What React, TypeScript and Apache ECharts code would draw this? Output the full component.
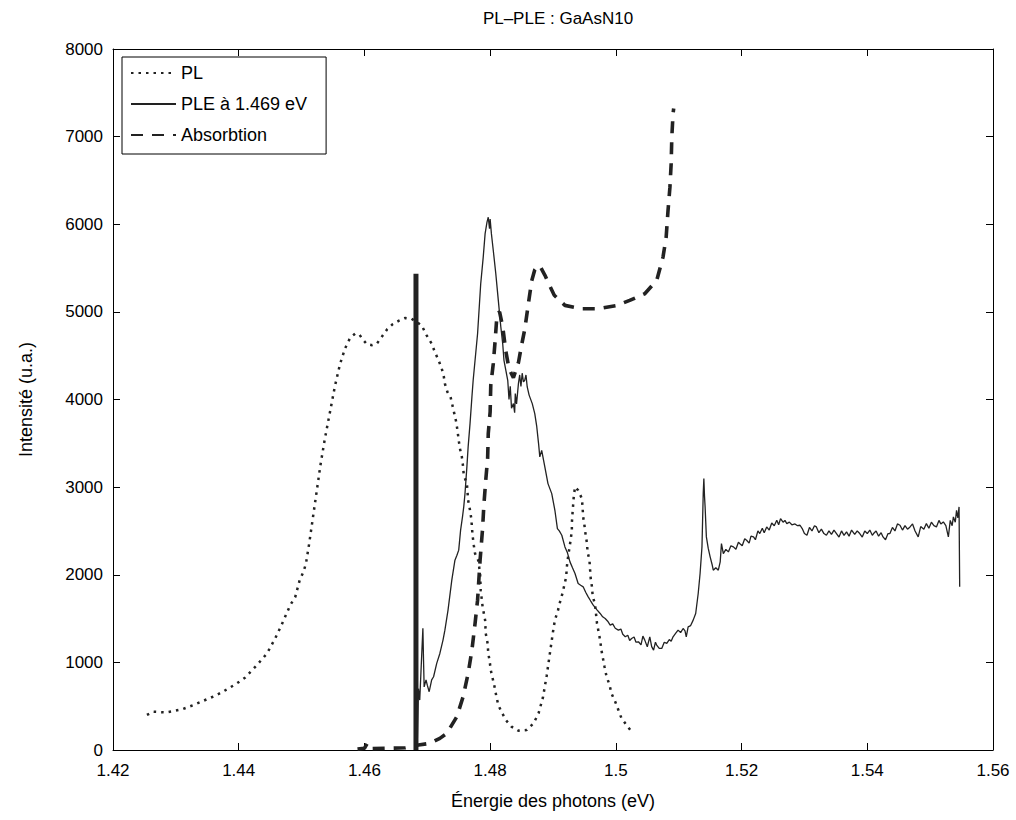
import React, { useEffect, useRef } from 'react';
import * as echarts from 'echarts';

const xTickLabels = ['1.42', '1.44', '1.46', '1.48', '1.5', '1.52', '1.54', '1.56'];
const yTickLabels = ['0', '1000', '2000', '3000', '4000', '5000', '6000', '7000', '8000'];
const seriesNames = ['PL', 'PLE à 1.469 eV', 'Absorbtion'];
const titleText = 'PL–PLE : GaAsN10';
const xAxisName = 'Énergie des photons (eV)';
const yAxisName = 'Intensité (u.a.)';

const detectionEnergy = 1.4682;
const detectionTop = 5435;

const plData: [number, number][] = [
  [1.4254, 400], [1.4264, 437], [1.4285, 429], [1.4297, 445], [1.4311, 467], [1.4328, 513],
  [1.4344, 562], [1.4365, 627], [1.4381, 691], [1.4397, 760], [1.4410, 825], [1.4429, 969],
  [1.4445, 1102], [1.4458, 1273], [1.4468, 1425], [1.4482, 1653], [1.4490, 1748], [1.4497, 1938],
  [1.4503, 2033], [1.4507, 2128], [1.4512, 2350], [1.4518, 2650], [1.4524, 2950], [1.4530, 3250],
  [1.4537, 3550], [1.4545, 3850], [1.4553, 4150], [1.4561, 4400], [1.4569, 4580], [1.4577, 4700],
  [1.4585, 4750], [1.4592, 4740], [1.4598, 4680], [1.4604, 4630], [1.4612, 4620], [1.4620, 4640],
  [1.4628, 4720], [1.4636, 4800], [1.4645, 4860], [1.4655, 4900], [1.4665, 4930], [1.4675, 4922],
  [1.4691, 4846], [1.4699, 4732], [1.4707, 4637], [1.4712, 4542], [1.4718, 4447], [1.4723, 4352],
  [1.4726, 4276], [1.4728, 4181], [1.4732, 4086], [1.4737, 4029], [1.4740, 3934], [1.4743, 3839],
  [1.4746, 3744], [1.4748, 3648], [1.4750, 3534], [1.4752, 3439], [1.4755, 3345], [1.4757, 3231],
  [1.4758, 3136], [1.4763, 3041], [1.4764, 2945], [1.4765, 2850], [1.4768, 2736], [1.4770, 2641],
  [1.4771, 2546], [1.4772, 2451], [1.4774, 2337], [1.4776, 2242], [1.4781, 2166], [1.4784, 2014],
  [1.4785, 1824], [1.4788, 1634], [1.4792, 1482], [1.4793, 1330], [1.4796, 1216], [1.4797, 1102],
  [1.4799, 1026], [1.4801, 912], [1.4804, 817], [1.4807, 722], [1.4810, 608], [1.4813, 513],
  [1.4818, 437], [1.4825, 342], [1.4834, 266], [1.4845, 220], [1.4858, 228], [1.4869, 304],
  [1.4877, 418], [1.4884, 600], [1.4890, 850], [1.4896, 1150], [1.4900, 1350], [1.4903, 1482],
  [1.4908, 1596], [1.4911, 1684], [1.4915, 1786], [1.4918, 1881], [1.4921, 1976], [1.4922, 2090],
  [1.4924, 2204], [1.4926, 2299], [1.4928, 2394], [1.4930, 2508], [1.4930, 2591], [1.4931, 2698],
  [1.4932, 2793], [1.4933, 2888], [1.4935, 3002], [1.4940, 2964], [1.4946, 2869], [1.4947, 2774],
  [1.4948, 2660], [1.4950, 2565], [1.4952, 2451], [1.4954, 2363], [1.4955, 2261], [1.4958, 2166],
  [1.4959, 2060], [1.4960, 1957], [1.4962, 1862], [1.4963, 1767], [1.4967, 1653], [1.4970, 1444],
  [1.4975, 1254], [1.4977, 1140], [1.4982, 950], [1.4985, 844], [1.4990, 741], [1.4993, 646],
  [1.4999, 551], [1.5004, 456], [1.5009, 361], [1.5017, 285], [1.5025, 209],
];

const pleData: [number, number][] = [
  [1.4684, 50], [1.4686, 700], [1.4688, 570], [1.4690, 900], [1.4693, 1390], [1.4694, 1030],
  [1.4695, 720], [1.4698, 800], [1.4700, 740], [1.4703, 665], [1.4707, 800], [1.4710, 836],
  [1.4715, 988], [1.4720, 1102], [1.4725, 1254], [1.4728, 1368], [1.4733, 1596], [1.4739, 1938],
  [1.4744, 2166], [1.4747, 2220], [1.4750, 2281], [1.4753, 2509], [1.4756, 2661], [1.4758, 2775],
  [1.4760, 2927], [1.4763, 3231], [1.4765, 3459], [1.4768, 3725], [1.4771, 4029], [1.4773, 4219],
  [1.4780, 4751], [1.4785, 5321], [1.4789, 5625], [1.4792, 5893], [1.4795, 6024], [1.4797, 6080],
  [1.4799, 5950], [1.4800, 6060], [1.4802, 5893], [1.4805, 5701], [1.4809, 5435], [1.4813, 5131],
  [1.4817, 4827], [1.4820, 4637], [1.4822, 4447], [1.4825, 4333], [1.4828, 4219], [1.4830, 4000],
  [1.4832, 4150], [1.4834, 3900], [1.4837, 3953], [1.4839, 3850], [1.4840, 4067], [1.4842, 3950],
  [1.4845, 4181], [1.4847, 4280], [1.4849, 4150], [1.4851, 4300], [1.4853, 4200], [1.4855, 4219],
  [1.4857, 4280], [1.4859, 4143], [1.4862, 4050], [1.4867, 3953], [1.4871, 3839], [1.4874, 3700],
  [1.4877, 3500], [1.4879, 3345], [1.4882, 3420], [1.4887, 3230], [1.4892, 3040], [1.4898, 2926],
  [1.4903, 2736], [1.4907, 2527], [1.4910, 2500], [1.4914, 2451], [1.4919, 2318], [1.4923, 2250],
  [1.4927, 2147], [1.4931, 2080], [1.4935, 2014], [1.4940, 1900], [1.4944, 1880], [1.4948, 1862],
  [1.4952, 1800], [1.4956, 1748], [1.4960, 1700], [1.4964, 1653], [1.4970, 1600], [1.4975, 1558],
  [1.4979, 1520], [1.4983, 1501], [1.4987, 1470], [1.4991, 1425], [1.4995, 1440], [1.4999, 1390],
  [1.5004, 1368], [1.5008, 1380], [1.5011, 1320], [1.5015, 1292], [1.5019, 1310], [1.5022, 1250],
  [1.5025, 1273], [1.5029, 1290], [1.5032, 1230], [1.5036, 1235], [1.5040, 1200], [1.5043, 1300],
  [1.5046, 1254], [1.5050, 1178], [1.5054, 1292], [1.5057, 1180], [1.5060, 1140], [1.5063, 1230],
  [1.5065, 1197], [1.5069, 1160], [1.5073, 1159], [1.5077, 1230], [1.5081, 1216], [1.5085, 1260],
  [1.5088, 1240], [1.5091, 1292], [1.5095, 1330], [1.5099, 1368], [1.5103, 1340], [1.5107, 1387],
  [1.5110, 1360], [1.5112, 1292], [1.5115, 1406], [1.5119, 1420], [1.5123, 1482], [1.5127, 1558],
  [1.5131, 1786], [1.5134, 2014], [1.5137, 2318], [1.5138, 2622], [1.5139, 2926], [1.5140, 3097],
  [1.5141, 2900], [1.5142, 2774], [1.5144, 2432], [1.5147, 2300], [1.5150, 2204], [1.5153, 2120],
  [1.5155, 2052], [1.5159, 2080], [1.5163, 2052], [1.5166, 2147], [1.5168, 2356], [1.5171, 2242],
  [1.5175, 2290], [1.5179, 2261], [1.5183, 2330], [1.5187, 2318], [1.5191, 2290], [1.5195, 2370],
  [1.5197, 2356], [1.5201, 2330], [1.5205, 2410], [1.5208, 2394], [1.5212, 2360], [1.5215, 2440],
  [1.5219, 2432], [1.5222, 2400], [1.5226, 2500], [1.5229, 2470], [1.5233, 2530], [1.5236, 2480],
  [1.5240, 2546], [1.5244, 2510], [1.5248, 2590], [1.5252, 2560], [1.5256, 2622], [1.5259, 2570],
  [1.5262, 2640], [1.5266, 2600], [1.5269, 2620], [1.5272, 2584], [1.5276, 2600], [1.5280, 2570],
  [1.5285, 2580], [1.5289, 2560], [1.5293, 2565], [1.5297, 2520], [1.5300, 2470], [1.5304, 2451],
  [1.5308, 2540], [1.5312, 2500], [1.5316, 2560], [1.5319, 2546], [1.5323, 2480], [1.5327, 2520],
  [1.5331, 2470], [1.5335, 2451], [1.5339, 2500], [1.5343, 2460], [1.5347, 2510], [1.5351, 2470],
  [1.5355, 2430], [1.5359, 2500], [1.5363, 2450], [1.5367, 2489], [1.5371, 2440], [1.5375, 2510],
  [1.5380, 2460], [1.5384, 2500], [1.5388, 2470], [1.5392, 2430], [1.5396, 2500], [1.5400, 2470],
  [1.5404, 2510], [1.5408, 2450], [1.5410, 2470], [1.5414, 2500], [1.5418, 2440], [1.5422, 2480],
  [1.5425, 2432], [1.5429, 2400], [1.5433, 2470], [1.5436, 2470], [1.5440, 2540], [1.5444, 2500],
  [1.5448, 2580], [1.5452, 2565], [1.5456, 2510], [1.5460, 2560], [1.5464, 2520], [1.5468, 2546],
  [1.5472, 2580], [1.5476, 2500], [1.5481, 2432], [1.5485, 2550], [1.5490, 2520], [1.5494, 2584],
  [1.5498, 2530], [1.5502, 2600], [1.5506, 2560], [1.5510, 2546], [1.5514, 2620], [1.5517, 2580],
  [1.5521, 2603], [1.5525, 2560], [1.5529, 2432], [1.5532, 2620], [1.5535, 2560], [1.5537, 2660],
  [1.5540, 2600], [1.5542, 2736], [1.5544, 2650], [1.5546, 2774], [1.5547, 1862],
];

const absData: [number, number][] = [
  [1.4589, 10], [1.4600, 20], [1.4605, 80], [1.4612, 15], [1.4640, 20], [1.4665, 25],
  [1.4686, 57], [1.4704, 76], [1.4720, 133], [1.4731, 190], [1.4747, 380], [1.4757, 608],
  [1.4765, 874], [1.4771, 1140], [1.4776, 1444], [1.4780, 1710], [1.4784, 2166], [1.4788, 2528],
  [1.4790, 2794], [1.4793, 3079], [1.4796, 3326], [1.4797, 3611], [1.4800, 3858], [1.4801, 4162],
  [1.4805, 4409], [1.4808, 4675], [1.4811, 4979], [1.4815, 5000], [1.4820, 4830], [1.4825, 4550],
  [1.4830, 4350], [1.4837, 4250], [1.4845, 4420], [1.4850, 4620], [1.4855, 4800], [1.4860, 5050],
  [1.4866, 5350], [1.4871, 5480], [1.4876, 5530], [1.4881, 5500], [1.4887, 5420], [1.4894, 5310],
  [1.4902, 5190], [1.4919, 5074], [1.4946, 5036], [1.4972, 5036], [1.5002, 5074], [1.5022, 5131],
  [1.5046, 5207], [1.5065, 5359], [1.5075, 5625], [1.5080, 5850], [1.5083, 6157], [1.5086, 6420],
  [1.5088, 6693], [1.5089, 6990], [1.5091, 7263], [1.5092, 7320],
];

const FONT = "'Liberation Sans', Arial, Helvetica, sans-serif";
const INK = '#222';

export default function App() {
  const ref = useRef<HTMLDivElement>(null);

  useEffect(() => {
    if (!ref.current) return;
    const chart = echarts.init(ref.current, null, { renderer: 'svg' });
    const xLabel = (v: number) => xTickLabels[Math.round((v - 1.42) / 0.02)] ?? '';
    const yLabel = (v: number) => yTickLabels[Math.round(v / 1000)] ?? '';
    const tick = { inside: true, length: 7, lineStyle: { color: '#000', width: 1 } };
    const line = { lineStyle: { color: '#000', width: 1 } };
    chart.setOption({
      animation: false,
      backgroundColor: '#fff',
      title: {
        text: titleText,
        left: 553,
        textAlign: 'center',
        top: 5,
        textStyle: { fontFamily: FONT, fontSize: 17, fontWeight: 'normal', color: '#000' },
      },
      legend: {
        data: seriesNames,
        orient: 'vertical',
        left: 122,
        top: 57,
        padding: [7, 19, 10, 8],
        itemWidth: 45,
        itemHeight: 16,
        itemGap: 13,
        backgroundColor: '#fff',
        borderColor: '#000',
        borderWidth: 1,
        borderRadius: 0,
        itemStyle: { opacity: 0, borderWidth: 0 },
        textStyle: { fontFamily: FONT, fontSize: 18, color: '#000' },
      },
      grid: { left: 113, right: 23, top: 49, bottom: 70, containLabel: false },
      xAxis: [
        {
          type: 'value', min: 1.42, max: 1.56, interval: 0.02, position: 'bottom',
          name: xAxisName, nameLocation: 'middle', nameGap: 42,
          nameTextStyle: { fontFamily: FONT, fontSize: 18, color: '#000' },
          axisLine: { ...line, onZero: false }, axisTick: tick, splitLine: { show: false },
          axisLabel: { formatter: xLabel, margin: 12, fontFamily: FONT, fontSize: 17, color: '#000' },
        },
        {
          type: 'value', min: 1.42, max: 1.56, interval: 0.02, position: 'top',
          axisLine: { ...line, onZero: false }, axisTick: tick, splitLine: { show: false },
          axisLabel: { show: false },
        },
      ],
      yAxis: [
        {
          type: 'value', min: 0, max: 8000, interval: 1000, position: 'left',
          name: yAxisName, nameLocation: 'middle', nameGap: 78,
          nameTextStyle: { fontFamily: FONT, fontSize: 18, color: '#000' },
          axisLine: { ...line, show: true, onZero: false }, axisTick: tick, splitLine: { show: false },
          axisLabel: { formatter: yLabel, margin: 10, fontFamily: FONT, fontSize: 17, color: '#000' },
        },
        {
          type: 'value', min: 0, max: 8000, interval: 1000, position: 'right',
          axisLine: { ...line, show: true, onZero: false }, axisTick: tick, splitLine: { show: false },
          axisLabel: { show: false },
        },
      ],
      series: [
        {
          name: seriesNames[0], type: 'line', data: plData, symbol: 'none', showSymbol: false,
          lineStyle: { color: INK, width: 2.5, type: [2.5, 5] }, itemStyle: { color: INK },
        },
        {
          name: seriesNames[1], type: 'line', data: pleData, symbol: 'none', showSymbol: false,
          lineStyle: { color: INK, width: 1.3, type: 'solid' }, itemStyle: { color: INK },
        },
        {
          name: seriesNames[2], type: 'line', data: absData, symbol: 'none', showSymbol: false,
          lineStyle: { color: INK, width: 3.6, type: [12, 9] }, itemStyle: { color: INK },
        },
        {
          name: 'detection', type: 'line', symbol: 'none', showSymbol: false,
          data: [[detectionEnergy, 0], [detectionEnergy, detectionTop]],
          lineStyle: { color: INK, width: 5 }, itemStyle: { color: INK }, z: 3,
        },
      ],
    });
    return () => chart.dispose();
  }, []);

  return (
    <div
      ref={ref}
      style={{ position: 'fixed', left: 0, top: 0, width: 1016, height: 820, background: '#fff' }}
    />
  );
}
